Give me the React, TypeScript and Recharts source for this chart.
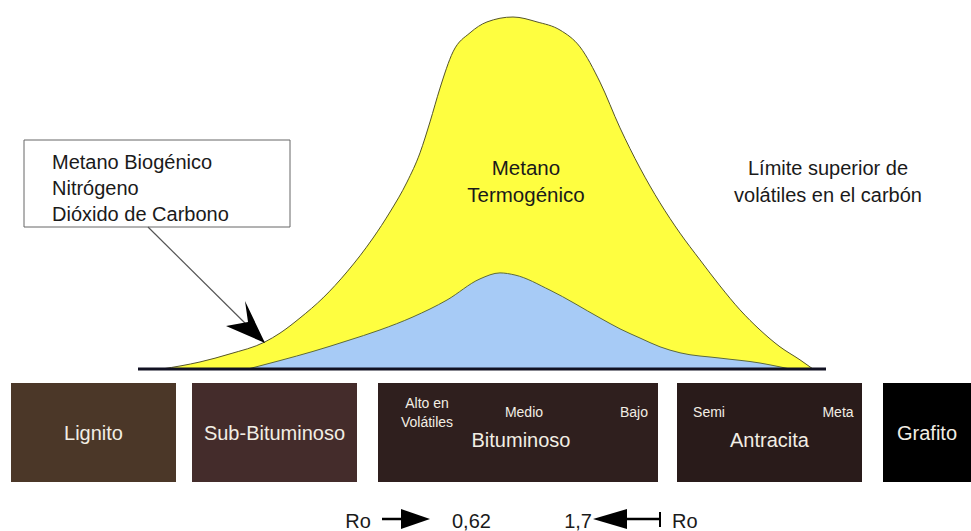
import React from 'react';
import { ComposedChart, Area, XAxis, YAxis, ReferenceArea, ReferenceLine, ReferenceDot } from 'recharts';

const W = 971;
const H = 531;
const BASE_ROW = 369; // pixel row of the zero line
const UNIT = 3.52; // pixels per unit of gas volume
const FONT = '"Liberation Sans", Arial, sans-serif';

// Metano termogénico (yellow envelope), x = position along the rank scale
const termoX = [162, 200, 230, 265, 280, 300, 323, 347, 373, 390, 407, 420, 430, 440, 453, 470, 487, 513, 537, 560, 580, 600, 620, 640, 660, 680, 700, 720, 740, 760, 780, 800, 813];
const termoY = [0, 2.0, 4.3, 7.7, 10.2, 14.5, 20.2, 27.6, 37.2, 44.6, 53.1, 61.4, 70.2, 79.8, 90.1, 95.5, 98.6, 100, 98.6, 96.3, 91.5, 81.5, 68.5, 57.1, 47.2, 38.6, 31.0, 23.6, 16.8, 11.1, 6.3, 2.6, 0];

// inner blue curve
const innerX = [248, 280, 313, 347, 380, 413, 447, 480, 500, 515, 550, 600, 620, 640, 660, 680, 720, 760, 780, 790];
const innerY = [0, 2.4, 5.0, 8.0, 11.1, 14.8, 19.6, 25.6, 27.3, 26.7, 22.4, 14.5, 11.4, 8.8, 6.3, 4.6, 3.1, 1.7, 0.6, 0];

// coal ranks
const ranks = ['Lignito', 'Sub-Bituminoso', 'Bituminoso', 'Antracita', 'Grafito'];
const rankStart = [11, 192, 378, 677, 883];
const rankEnd = [176, 357, 658, 862, 971];
const rankColors = ['#4b3728', '#442c2b', '#2f1f1e', '#291b1a', '#000000'];

const subLabels = [['Alto en', 'Volátiles'], ['Medio'], ['Bajo'], ['Semi'], ['Meta']];
const subLabelX = [427, 524, 634, 709, 838];

const gasLabels = ['Metano Biogénico', 'Nitrógeno', 'Dióxido de Carbono'];

const xs = Array.from(new Set([...termoX, ...innerX])).sort((a, b) => a - b);
const data = xs.map((x) => {
  const ti = termoX.indexOf(x);
  const ii = innerX.indexOf(x);
  return { x, termo: ti >= 0 ? termoY[ti] : null, inner: ii >= 0 ? innerY[ii] : null };
});

const v = (row: number) => (BASE_ROW - row) / UNIT;

function textLines(lines: string[], size: number, lh: number, fill: string, anchor: string = 'middle') {
  return (p: any) => (
    <text x={p.cx} y={p.cy} textAnchor={anchor} fontSize={size} fill={fill} fontFamily={FONT}>
      {lines.map((l, i) => (
        <tspan key={i} x={p.cx} dy={i === 0 ? 0 : lh}>{l}</tspan>
      ))}
    </text>
  );
}

function poly(points: number[][], fill: string) {
  return (p: any) => (
    <polygon points={points.map(([dx, dy]) => `${p.cx + dx},${p.cy + dy}`).join(' ')} fill={fill} />
  );
}

export default function App() {
  return (
    <div style={{ position: 'absolute', left: 0, top: 0, background: '#fff' }}>
      <ComposedChart width={W} height={H} data={data} margin={{ top: 0, right: 0, bottom: 0, left: 0 }}>
        <XAxis type="number" dataKey="x" domain={[0, W]} hide allowDataOverflow />
        <YAxis type="number" domain={[v(H), v(0)]} hide allowDataOverflow />

        <Area type="monotone" dataKey="termo" stroke="#55552a" strokeWidth={1} fill="#fefe40" fillOpacity={1}
          baseValue={0} connectNulls dot={false} activeDot={false} isAnimationActive={false} />
        <Area type="monotone" dataKey="inner" stroke="#5d6a3a" strokeWidth={1} fill="#a7cbf6" fillOpacity={1}
          baseValue={0} connectNulls dot={false} activeDot={false} isAnimationActive={false} />

        <ReferenceLine segment={[{ x: 138, y: 0 }, { x: 826, y: 0 }]} stroke="#111122" strokeWidth={3} ifOverflow="visible" />

        {ranks.map((r, i) => (
          <ReferenceArea key={r} x1={rankStart[i]} x2={rankEnd[i]} y1={v(383)} y2={v(482)}
            fill={rankColors[i]} fillOpacity={1} stroke="none" ifOverflow="visible"
            label={(p: any) => {
              const vb = p.viewBox;
              const low = r === 'Bituminoso' || r === 'Antracita';
              return (
                <text x={vb.x + vb.width / 2 + (r === 'Bituminoso' ? 3 : 0)} y={low ? 447 : 440} textAnchor="middle"
                  fontSize={20} fill="#f2eee4" fontFamily={FONT}>{r}</text>
              );
            }} />
        ))}
        {subLabels.map((s, i) => (
          <ReferenceDot key={i} x={subLabelX[i]} y={v(s.length > 1 ? 408 : 417)} r={0}
            shape={textLines(s, 14, 19, '#f2eee4')} />
        ))}

        {/* gas box */}
        <ReferenceArea x1={24} x2={290} y1={v(140)} y2={v(227)} fill="#ffffff" fillOpacity={1}
          stroke="#666" strokeWidth={1} ifOverflow="visible" />
        <ReferenceDot x={52} y={v(169)} r={0} shape={textLines(gasLabels, 20, 26, '#1a1a1a', 'start')} />
        <ReferenceLine segment={[{ x: 148, y: v(227) }, { x: 255, y: v(333) }]} stroke="#555" strokeWidth={1.2} ifOverflow="visible" />
        <ReferenceDot x={265} y={v(343)} r={0} shape={poly([[0, 0], [-39, -17], [-17, -21], [-20, -42]], '#000')} />

        <ReferenceDot x={526} y={v(175)} r={0} shape={textLines(['Metano', 'Termogénico'], 20.5, 27, '#1a1a1a')} />
        <ReferenceDot x={828} y={v(175)} r={0} shape={textLines(['Límite superior de', 'volátiles en el carbón'], 20, 27, '#1a1a1a')} />

        {/* Ro arrows */}
        <ReferenceDot x={358} y={v(528)} r={0} shape={textLines(['Ro'], 20, 0, '#1a1a1a')} />
        <ReferenceLine segment={[{ x: 382, y: v(519) }, { x: 405, y: v(519) }]} stroke="#000" strokeWidth={2.5} ifOverflow="visible" />
        <ReferenceDot x={430} y={v(519)} r={0} shape={poly([[0, 0], [-29, -10], [-29, 10]], '#000')} />
        <ReferenceDot x={452} y={v(528)} r={0} shape={textLines(['0,62'], 20, 0, '#1a1a1a', 'start')} />

        <ReferenceDot x={592} y={v(528)} r={0} shape={textLines(['1,7'], 20, 0, '#1a1a1a', 'end')} />
        <ReferenceDot x={593} y={v(519)} r={0} shape={poly([[0, 0], [34, -10], [34, 10]], '#000')} />
        <ReferenceLine segment={[{ x: 625, y: v(519) }, { x: 660, y: v(519) }]} stroke="#000" strokeWidth={2.5} ifOverflow="visible" />
        <ReferenceLine segment={[{ x: 660, y: v(512) }, { x: 660, y: v(527) }]} stroke="#000" strokeWidth={2} ifOverflow="visible" />
        <ReferenceDot x={672} y={v(528)} r={0} shape={textLines(['Ro'], 20, 0, '#1a1a1a', 'start')} />
      </ComposedChart>
    </div>
  );
}
